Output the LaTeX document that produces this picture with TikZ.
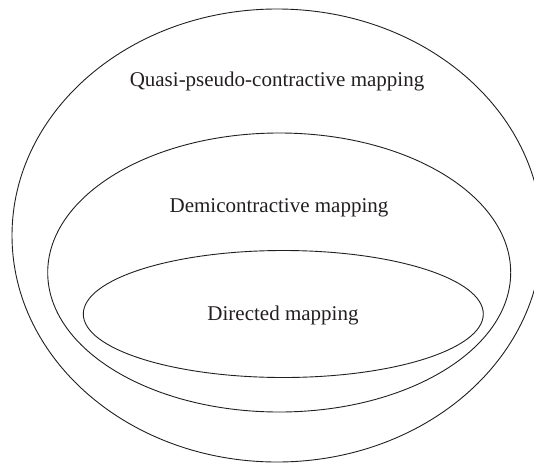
\documentclass[tikz,border=0pt]{standalone}
\usepackage{fontspec}
\setmainfont{Liberation Serif}
\usetikzlibrary{shapes.geometric}
\definecolor{ink}{HTML}{231F20}
\begin{document}
\begin{tikzpicture}[x=1pt,y=-1pt,
  ring/.style={draw=ink,line width=0.9pt,ellipse,inner sep=0pt,outer sep=0pt},
  lbl/.style={text=ink,font=\fontsize{21}{24}\selectfont,anchor=base,inner sep=0pt}]
\useasboundingbox (0,0) rectangle (534,463);
\clip (0,0) rectangle (534,463);
\node[ring,minimum width=530pt,minimum height=453pt] (outer) at (277,235.5) {};
\node[ring,minimum width=463pt,minimum height=279pt] (middle) at (279.2,272.5) {};
\node[ring,minimum width=400pt,minimum height=127pt] (inner) at (283.3,314) {};
\node[lbl] (tq) at (277,86) {Quasi-pseudo-contractive mapping};
\node[lbl] (td) at (279,212) {Demicontractive mapping};
\node[lbl] (ti) at (283,320) {Directed mapping};
\end{tikzpicture}
\end{document}
